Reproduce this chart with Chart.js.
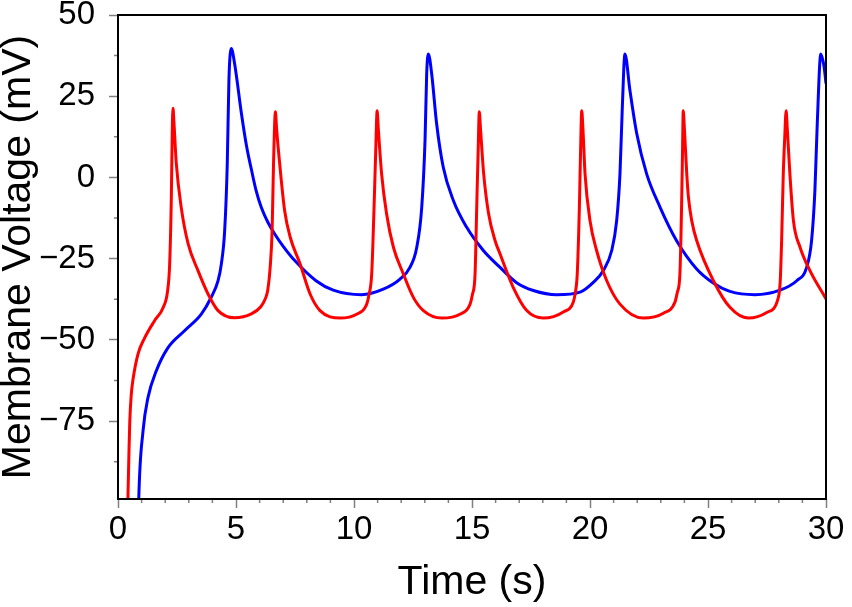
<!DOCTYPE html>
<html>
<head>
<meta charset="utf-8">
<script src="https://cdn.jsdelivr.net/npm/chart.js@4.4.1/dist/chart.umd.min.js"></script>
<style>
  html, body { margin: 0; padding: 0; background: #fff; }
  #wrap { width: 852px; height: 607px; }
</style>
</head>
<body>
<div id="wrap"><canvas id="voltageChart" width="852" height="607"></canvas></div>
<script>
// Red trace (time in s, voltage in mV)
const redTime = [0.36, 0.42, 0.46, 0.50, 0.56, 0.64, 0.85, 1.13, 1.55, 1.91, 2.10, 2.19, 2.26, 2.30, 2.33, 2.37, 2.47, 2.68, 2.97, 3.39, 3.81, 4.24,
  4.94, 5.65, 6.05, 6.25, 6.35, 6.45, 6.53, 6.59, 6.67, 6.72, 6.85, 7.06, 7.30, 7.71, 8.14, 8.56, 9.41, 10.11, 10.54, 10.64, 10.75, 10.85, 10.92,
  10.98, 11.03, 11.17, 11.38, 11.67, 12.09, 12.52, 12.94, 13.72, 14.49, 14.92, 15.02, 15.13, 15.20, 15.26, 15.31, 15.36, 15.49, 15.70, 15.98, 16.19,
  16.75, 17.32, 18.02, 18.87, 19.29, 19.38, 19.46, 19.55, 19.60, 19.65, 19.70, 19.79, 20.00, 20.28, 20.71, 21.27, 22.26, 23.11, 23.60, 23.70, 23.81, 23.88,
  23.92, 23.95, 24.00, 24.10, 24.17, 24.31, 24.52, 25.23, 25.93, 26.71, 27.49, 27.98, 28.06, 28.12, 28.19, 28.25, 28.31, 28.36, 28.47, 28.62, 28.90,
  29.32, 30.00];
const redVolt = [-118, -99, -86, -75, -67, -62, -54.3, -49.4, -44.1, -40.1, -35, -26.5, -6.1, 14.5, 21.3, 17, 4.3, -9.3, -20.4, -28.7, -35.8, -41.0,
  -43.2, -42.0, -39.8, -37.2, -34.5, -27.5, -16.4, 4.2, 20.2, 15, 4.3, -10.2, -18.5, -26.5, -35.9, -41.0, -43.3, -42.1, -39.0, -36.0, -29.7, -9.2, 8.0,
  20.5, 15, 1.1, -11.2, -21.5, -29.7, -37.0, -41.0, -43.3, -42.1, -39.0, -36.0, -29.7, -9.2, 8.0, 20.2, 15, 1.5, -11, -19.5, -23.6,
  -33.9, -41.0, -43.3, -41.4, -38.4, -35.4, -29.7, -9.2, 8, 20.5, 15, 1.1, -13.3, -22.5, -31.8, -39.0, -43.3, -41.8, -38.4, -35.4, -29.7, -9.2,
  8, 20.5, 15, 1.1, -6, -13.3, -19.4, -31.8, -40.0, -43.3, -41.6, -37.0, -32.0, -19.4, 1.1, 12, 20.5, 15, 1.1, -13.3, -21.5,
  -28.7, -37.4];

// Blue trace
const blueTime = [0.84, 0.88, 1.06, 1.27, 1.62, 2.12, 2.82, 3.53, 3.95, 4.24, 4.38, 4.52, 4.63, 4.70, 4.80, 4.94, 5.23, 5.45, 5.65, 5.85, 6.07, 6.35, 6.64,
  7.00, 7.49, 8.39, 9.12, 10.32, 11.24, 11.95, 12.37, 12.66, 12.87, 13.01, 13.08, 13.15, 13.29, 13.50, 13.78, 14.21, 14.77, 15.48, 16.19, 16.89,
  17.60, 18.59, 19.58, 20.14, 20.56, 20.92, 21.13, 21.27, 21.37, 21.48, 21.69, 21.98, 22.40, 22.97, 23.67, 24.52, 25.22, 25.93, 26.99, 28.05,
  28.76, 29.18, 29.39, 29.53, 29.63, 29.78, 29.92, 30.00];
const blueVolt = [-115, -99, -78.1, -67.8, -59.6, -52.4, -47.2, -42.1, -36.9, -31.8, -26.6, -16.4, 4.2, 29.9, 39.7, 35.1, 19.7, 9.5, 2.5, -4.0, -9.2, -13.8, -17.4,
  -21.2, -25.6, -31.8, -34.7, -36.1, -34.4, -31.3, -27.7, -21.5, -9.2, 11.4, 32.0, 38.0, 32.0, 16.6, 3.2, -7.1, -15.3, -22.5, -27.7, -32.4,
  -34.8, -36.1, -35.3, -32.3, -28.7, -22.5, -13.3, 1.1, 21.7, 38.0, 26.9, 13.5, 1.1, -9.2, -19.5, -28.2, -32.5, -35.1, -36.1, -34.7,
  -31.8, -27.7, -19.4, -4.0, 16.6, 38.0, 34.0, 28.9];

// Ticks
const xTicks = [0, 5, 10, 15, 20, 25, 30];
const xMinorTicks = [1, 2, 3, 4, 6, 7, 8, 9, 11, 12, 13, 14, 16, 17, 18, 19, 21, 22, 23, 24, 26, 27, 28, 29];
const yTicks = [50, 25, 0, -25, -50, -75];
const yMinorTicks = [37.5, 12.5, -12.5, -37.5, -62.5, -87.5];

const toPoints = (ts, vs) => ts.map((t, i) => ({ x: t, y: vs[i] }));
const fontFamily = '"Liberation Sans", Arial, Helvetica, sans-serif';

// рамка вокруг области графика и короткие промежуточные деления
const framePlugin = {
  id: 'frame',
  afterDraw(chart) {
    const { ctx, chartArea: a, scales } = chart;
    ctx.save();
    ctx.strokeStyle = '#808080';
    ctx.lineWidth = 1.5;
    ctx.beginPath();
    xMinorTicks.forEach(v => {
      const px = scales.x.getPixelForValue(v);
      ctx.moveTo(px, a.bottom);
      ctx.lineTo(px, a.bottom + 4);
    });
    yMinorTicks.forEach(v => {
      const py = scales.y.getPixelForValue(v);
      ctx.moveTo(a.left, py);
      ctx.lineTo(a.left - 4, py);
    });
    ctx.stroke();
    ctx.strokeStyle = '#000';
    ctx.lineWidth = 2;
    ctx.strokeRect(a.left, a.top, a.right - a.left, a.bottom - a.top);
    ctx.restore();
  }
};

const ctx = document.getElementById('voltageChart').getContext('2d');
new Chart(ctx, {
  type: 'line',
  data: {
    datasets: [
      {
        data: toPoints(redTime, redVolt),
        borderColor: '#ff0000',
        borderWidth: 3,
        pointRadius: 0,
        cubicInterpolationMode: 'monotone',
        fill: false
      },
      {
        data: toPoints(blueTime, blueVolt),
        borderColor: '#0000ff',
        borderWidth: 3,
        pointRadius: 0,
        cubicInterpolationMode: 'monotone',
        fill: false
      }
    ]
  },
  options: {
    responsive: false,
    animation: false,
    layout: { padding: { left: 0, right: 26, top: 15, bottom: 0 } },
    plugins: {
      legend: { display: false },
      tooltip: { enabled: false }
    },
    scales: {
      x: {
        type: 'linear',
        min: 0,
        max: 30,
        afterBuildTicks: s => { s.ticks = xTicks.map(v => ({ value: v })); },
        afterFit: s => { s.height = 108; },
        grid: { drawOnChartArea: false, drawTicks: true, tickLength: 9, tickColor: '#808080', tickWidth: 1.5 },
        border: { display: false },
        ticks: {
          color: '#000',
          font: { family: fontFamily, size: 33, lineHeight: 1 },
          padding: 5,
          maxRotation: 0,
          autoSkip: false
        },
        title: {
          display: true,
          text: 'Time (s)',
          color: '#000',
          font: { family: fontFamily, size: 41, lineHeight: 0.9 },
          padding: { top: 0, bottom: 6 }
        }
      },
      y: {
        type: 'linear',
        min: -99,
        max: 50,
        afterBuildTicks: s => { s.ticks = yTicks.map(v => ({ value: v })); },
        afterFit: s => { s.width = 118; },
        grid: { drawOnChartArea: false, drawTicks: true, tickLength: 9, tickColor: '#808080', tickWidth: 1.5 },
        border: { display: false },
        ticks: {
          color: '#000',
          font: { family: fontFamily, size: 33, lineHeight: 0.05 },
          padding: 14,
          autoSkip: false,
          callback: v => (v < 0 ? '\u2212' + Math.abs(v) : String(v))
        },
        title: {
          display: true,
          text: 'Membrane Voltage (mV)',
          color: '#000',
          font: { family: fontFamily, size: 41, lineHeight: 0.9 },
          padding: { top: 0, bottom: 0 }
        }
      }
    }
  },
  plugins: [framePlugin]
});
</script>
</body>
</html>
